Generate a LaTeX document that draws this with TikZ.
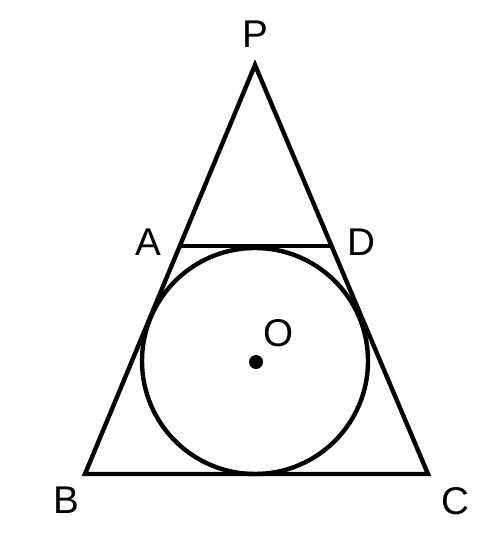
\documentclass[tikz,border=0pt]{standalone}
\usepackage{fontspec}
\setmainfont{Liberation Sans}
\begin{document}
\begin{tikzpicture}[x=0.02cm,y=-0.02cm,
  edge/.style={line width=2.5pt, line join=miter},
  lbl/.style={font=\fontsize{22}{26}\selectfont, inner sep=0pt}]
\useasboundingbox (0,0) rectangle (500,540);
\coordinate (P) at (255,65);
\coordinate (B) at (85,474);
\coordinate (C) at (428,474);
\coordinate (A) at (180,246);
\coordinate (D) at (332,246);
\coordinate (O) at (255,361);
\draw[edge] (P) -- (B) -- (C) -- cycle;
\draw[edge] (A) -- (D);
\draw[edge] (O) circle (113);
\fill (256,362) circle (7);
\node[lbl] (lP) at (255,34) {P};
\node[lbl] (lA) at (148,242) {A};
\node[lbl] (lD) at (361,242) {D};
\node[lbl] (lO) at (278.5,333) {O};
\node[lbl] (lB) at (66,500) {B};
\node[lbl] (lC) at (455,501) {C};
\end{tikzpicture}
\end{document}
